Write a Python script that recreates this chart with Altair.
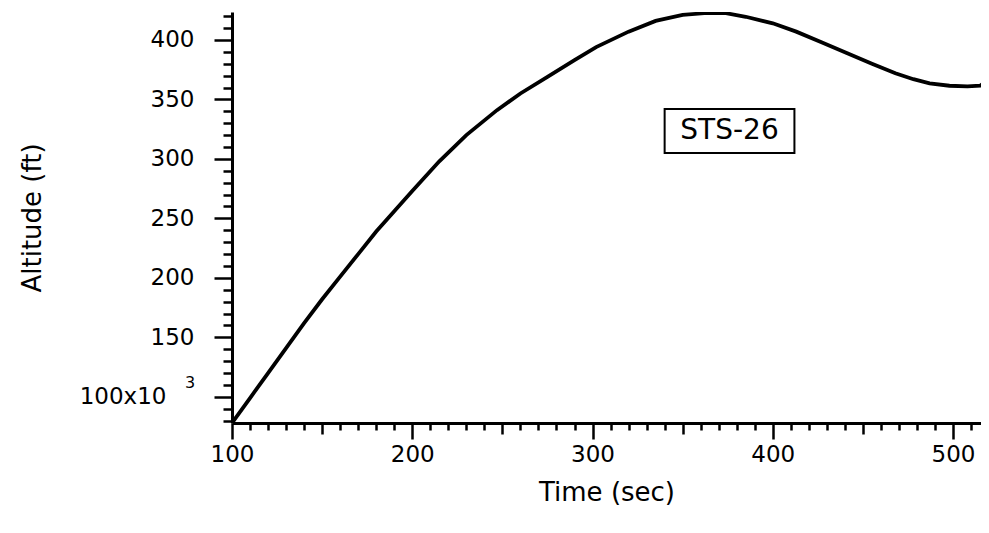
import altair as alt
import pandas as pd

# ---- data ----
time_s = [100, 110, 120, 130, 140, 150, 160, 170, 180, 190, 200, 215, 230, 247,
          260, 275, 290, 302, 320, 335, 350, 362, 374, 385, 400, 413, 427, 441,
          455, 468, 478, 487, 498, 508, 515, 518]
altitude_kft = [78, 99, 120, 141, 162, 182, 201, 220, 239, 256, 273, 298, 320, 341,
                355, 369, 383, 394, 407, 416, 421, 422.5, 422.5, 419.5, 414, 407, 398, 389,
                380, 372, 367, 363.5, 361.5, 361, 361.5, 365]

x_tick_values = list(range(100, 520, 10))
y_tick_values = list(range(80, 430, 10))

label_text = ["STS-26"]
label_time = [376]
label_alt = [323.5]
box_time = [340, 412]
box_alt = [305, 342]
sup_text = ["3"]
sup_time = [100]
sup_alt = [100]

FONT = "DejaVu Sans"

curve = pd.DataFrame({"t": time_s, "alt": altitude_kft})
box = pd.DataFrame({"t1": [box_time[0]], "t2": [box_time[1]],
                    "a1": [box_alt[0]], "a2": [box_alt[1]]})
lab = pd.DataFrame({"t": label_time, "alt": label_alt, "txt": label_text})
sup = pd.DataFrame({"t": sup_time, "alt": sup_alt, "txt": sup_text})

x_scale = alt.Scale(domain=[100, 515.5], nice=False, zero=False)
y_scale = alt.Scale(domain=[78, 423.5], nice=False, zero=False)

x_axis = alt.Axis(
    values=x_tick_values,
    tickCount=200,
    title="Time (sec)",
    labelExpr="datum.value % 100 === 0 ? datum.label : ''",
    labelOverlap=False,
    labelFlush=False,
    labelFont=FONT, labelFontSize=23, labelColor="black",
    labelPadding=4,
    titleFont=FONT, titleFontSize=26, titleFontWeight="normal", titleColor="black",
    titleY=69, titleBaseline="middle",
    tickSize={"condition": [{"test": "datum.value % 100 === 0", "value": 16},
                            {"test": "datum.value % 50 === 0", "value": 11}],
              "value": 7},
    tickWidth=2.5, tickColor="black",
    domainWidth=3, domainColor="black",
    grid=False,
)

y_axis = alt.Axis(
    values=y_tick_values,
    tickCount=200,
    title="Altitude (ft)",
    labelExpr="datum.value % 50 === 0 ? (datum.value === 100 ? '100x10' : datum.label) : ''",
    labelOverlap=False,
    labelFlush=False,
    labelFont=FONT, labelFontSize=23, labelColor="black",
    labelPadding={"condition": {"test": "datum.value === 100", "value": 48}, "value": 20},
    titleFont=FONT, titleFontSize=26, titleFontWeight="normal", titleColor="black",
    titleX=-200, titleBaseline="middle",
    tickSize={"condition": {"test": "datum.value % 50 === 0", "value": 18}, "value": 9},
    tickWidth=2.5, tickColor="black",
    domainWidth=3, domainColor="black",
    grid=False,
)

line = alt.Chart(curve).mark_line(color="black", strokeWidth=3.8, clip=True).encode(
    x=alt.X("t:Q", scale=x_scale, axis=x_axis),
    y=alt.Y("alt:Q", scale=y_scale, axis=y_axis),
)

rect = alt.Chart(box).mark_rect(fill="white", stroke="black", strokeWidth=2).encode(
    x="t1:Q", x2="t2:Q", y="a1:Q", y2="a2:Q",
)

text = alt.Chart(lab).mark_text(font=FONT, fontSize=28, color="black").encode(
    x="t:Q", y="alt:Q", text="txt:N",
)

supt = alt.Chart(sup).mark_text(font=FONT, fontSize=16, color="black", dx=-42, dy=-14).encode(
    x="t:Q", y="alt:Q", text="txt:N",
)

chart = alt.layer(line, rect, text, supt).properties(
    width=749, height=411,
    background="white",
    autosize=alt.AutoSizeParams(type="none"),
    padding={"left": 224, "top": 4, "right": 0, "bottom": 100},
).configure_view(stroke=None)

chart.save("out.html", embed_options={"renderer": "svg", "actions": False})
